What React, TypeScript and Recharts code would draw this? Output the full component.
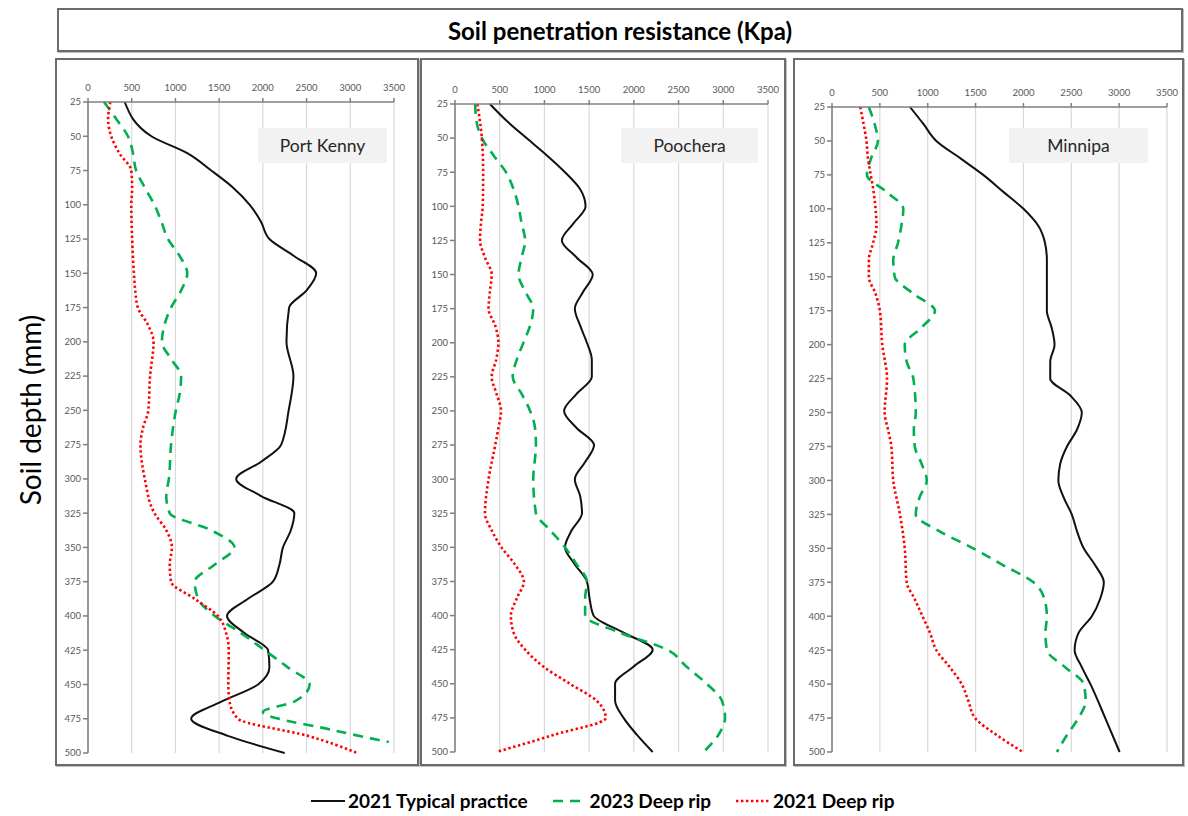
import { LineChart, Line, XAxis, YAxis, CartesianGrid } from 'recharts'

const depthTicks = [25, 50, 75, 100, 125, 150, 175, 200, 225, 250, 275, 300, 325, 350, 375, 400, 425, 450, 475, 500]
const kpaTicks = [0, 500, 1000, 1500, 2000, 2500, 3000, 3500]

const seriesNames = ['2021 Typical practice', '2023 Deep rip', '2021 Deep rip']

// Port Kenny
const pkTypicalDepth = [25, 50, 62.5, 75, 87.5, 100, 112.5, 125, 137.5, 150, 162.5, 175, 200, 225, 250, 275, 287.5, 300, 312.5, 325, 337.5, 350, 362.5, 375, 387.5, 400, 412.5, 425, 437.5, 450, 462.5, 475, 487.5, 500]
const pkTypical = [420, 725, 1140, 1410, 1660, 1850, 1980, 2075, 2360, 2610, 2500, 2300, 2270, 2350, 2295, 2210, 1980, 1695, 1980, 2360, 2320, 2230, 2190, 2115, 1830, 1590, 1790, 2060, 2075, 1945, 1525, 1180, 1600, 2250]
const pkRip23Depth = [25, 37.5, 50, 62.5, 75, 87.5, 100, 112.5, 125, 137.5, 150, 162.5, 175, 187.5, 200, 212.5, 225, 237.5, 250, 275, 300, 312.5, 325, 337.5, 350, 362.5, 375, 387.5, 400, 412.5, 425, 437.5, 450, 462.5, 470, 483, 492]
const pkRip23 = [183, 325, 457, 515, 550, 650, 760, 840, 915, 1050, 1135, 1065, 950, 875, 845, 950, 1065, 1050, 1005, 950, 925, 895, 935, 1410, 1675, 1450, 1220, 1260, 1450, 1750, 2020, 2285, 2535, 2360, 2000, 2780, 3440]
const pkRip21Depth = [25, 37.5, 50, 62.5, 75, 87.5, 100, 125, 150, 162.5, 175, 187.5, 200, 225, 250, 262.5, 275, 300, 325, 337.5, 350, 362.5, 375, 387.5, 400, 412.5, 425, 450, 462.5, 475, 487.5, 500]
const pkRip21 = [255, 230, 265, 360, 495, 505, 495, 505, 525, 540, 570, 685, 750, 710, 690, 630, 600, 650, 760, 895, 960, 935, 950, 1220, 1485, 1580, 1610, 1605, 1620, 1715, 2515, 3080]

// Poochera
const poTypicalDepth = [25, 37.5, 50, 62.5, 75, 87.5, 100, 112.5, 125, 137.5, 150, 162.5, 175, 187.5, 200, 212.5, 225, 237.5, 250, 262.5, 275, 287.5, 300, 312.5, 325, 337.5, 350, 362.5, 375, 387.5, 400, 412.5, 425, 437.5, 450, 462.5, 475, 487.5, 500]
const poTypical = [390, 580, 800, 1025, 1230, 1400, 1460, 1325, 1195, 1360, 1540, 1435, 1340, 1400, 1475, 1530, 1530, 1360, 1220, 1360, 1555, 1455, 1340, 1400, 1420, 1305, 1230, 1340, 1475, 1505, 1550, 1885, 2210, 1995, 1790, 1790, 1885, 2035, 2210]
const poRip23Depth = [25, 37.5, 50, 62.5, 75, 87.5, 100, 112.5, 125, 137.5, 150, 162.5, 175, 187.5, 200, 212.5, 225, 237.5, 250, 262.5, 275, 300, 325, 337.5, 350, 362.5, 375, 387.5, 400, 412.5, 425, 437.5, 450, 462.5, 475, 487.5, 500]
const poRip23 = [225, 240, 300, 430, 570, 655, 710, 745, 785, 745, 710, 785, 875, 840, 765, 690, 645, 745, 840, 895, 905, 875, 905, 1065, 1230, 1360, 1475, 1455, 1455, 1845, 2370, 2590, 2815, 2985, 3020, 2945, 2780]
const poRip21Depth = [25, 50, 75, 100, 112.5, 125, 137.5, 150, 162.5, 175, 187.5, 200, 212.5, 225, 237.5, 250, 262.5, 275, 300, 325, 337.5, 350, 362.5, 375, 387.5, 400, 412.5, 425, 437.5, 450, 462.5, 475, 487.5, 500]
const poRip21 = [250, 300, 315, 310, 290, 280, 335, 410, 390, 375, 450, 485, 460, 410, 465, 515, 485, 450, 375, 335, 410, 520, 670, 770, 690, 625, 655, 785, 990, 1285, 1585, 1685, 1100, 465]

// Minnipa
const miTypicalDepth = [25, 37.5, 50, 62.5, 75, 87.5, 100, 112.5, 125, 137.5, 150, 175, 187.5, 200, 212.5, 225, 237.5, 250, 262.5, 275, 287.5, 300, 312.5, 325, 337.5, 350, 362.5, 375, 387.5, 400, 412.5, 425, 437.5, 450, 475, 500]
const miTypical = [815, 955, 1090, 1335, 1580, 1790, 2000, 2155, 2225, 2245, 2245, 2245, 2295, 2325, 2280, 2280, 2490, 2610, 2560, 2455, 2385, 2365, 2420, 2505, 2560, 2630, 2750, 2840, 2800, 2715, 2575, 2535, 2610, 2700, 2855, 3005]
const miRip23Depth = [25, 37.5, 50, 62.5, 75, 87.5, 100, 112.5, 125, 137.5, 150, 162.5, 175, 187.5, 200, 212.5, 225, 250, 262.5, 275, 287.5, 300, 312.5, 325, 337.5, 350, 362.5, 375, 387.5, 400, 412.5, 425, 437.5, 450, 462.5, 475, 487.5, 500]
const miRip23 = [385, 445, 480, 410, 365, 570, 745, 725, 690, 640, 655, 850, 1075, 935, 760, 780, 850, 875, 855, 865, 935, 990, 915, 875, 1125, 1475, 1790, 2105, 2220, 2245, 2230, 2245, 2435, 2630, 2650, 2575, 2455, 2350]
const miRip21Depth = [25, 37.5, 50, 62.5, 75, 87.5, 100, 112.5, 125, 137.5, 150, 162.5, 175, 200, 225, 250, 262.5, 275, 300, 325, 350, 375, 387.5, 400, 412.5, 425, 437.5, 450, 462.5, 475, 487.5, 500]
const miRip21 = [295, 330, 360, 375, 405, 435, 455, 465, 430, 385, 385, 455, 500, 525, 575, 550, 585, 620, 640, 710, 760, 780, 865, 945, 1025, 1090, 1230, 1355, 1425, 1495, 1720, 1995]

const toRows = (depths: number[], values: number[]) =>
  depths.map((depth, i) => ({ depth, kpa: values[i] }))

const lineStyles = [
  { stroke: '#111111', strokeWidth: 2, strokeDasharray: undefined as string | undefined },
  { stroke: '#00b050', strokeWidth: 2.6, strokeDasharray: '10 7' },
  { stroke: '#ff0000', strokeWidth: 2.6, strokeDasharray: '2.4 2.6' },
]

const font = 'Lato, "Open Sans", sans-serif'

interface PanelProps {
  site: string
  box: { x: number; y: number; w: number; h: number }
  plot: { left: number; right: number; top: number; bottom: number }
  label: { x: number; w: number }
  series: { depths: number[]; values: number[] }[]
}

function SitePanel({ site, box, plot, label, series }: PanelProps) {
  const axisH = 30
  return (
    <>
      <div
        style={{
          position: 'absolute',
          left: box.x,
          top: box.y,
          width: box.w,
          height: box.h,
          border: '2px solid #6b6b6b',
          boxSizing: 'border-box',
          boxShadow: '1px 1px 0 #bdbdbd',
        }}
      />
      <div style={{ position: 'absolute', left: box.x, top: box.y }}>
        <LineChart
          width={box.w}
          height={box.h}
          layout="vertical"
          margin={{ left: 0, right: plot.right, top: plot.top - axisH, bottom: plot.bottom }}
        >
          <CartesianGrid horizontal={false} stroke="#d9d9d9" strokeWidth={1.2} />
          <XAxis
            type="number"
            orientation="top"
            domain={[0, 3500]}
            ticks={kpaTicks}
            height={axisH}
            tickSize={4}
            tickMargin={7}
            tick={{ fontSize: 9.5, fill: '#595959', fontFamily: font }}
            stroke="#7f7f7f"
            strokeWidth={1.5}
            interval={0}
          />
          <YAxis
            type="number"
            dataKey="depth"
            domain={[25, 500]}
            ticks={depthTicks}
            width={plot.left}
            tickSize={5}
            tickMargin={2}
            tick={{ fontSize: 9.5, fill: '#595959', fontFamily: font }}
            stroke="#7f7f7f"
            strokeWidth={1.5}
            interval={0}
          />
          {series.map((s, i) => (
            <Line
              key={seriesNames[i]}
              name={seriesNames[i]}
              data={toRows(s.depths, s.values)}
              dataKey="kpa"
              type="monotone"
              dot={false}
              isAnimationActive={false}
              {...lineStyles[i]}
            />
          ))}
        </LineChart>
      </div>
      <div
        style={{
          position: 'absolute',
          left: label.x,
          top: 128,
          width: label.w,
          height: 35,
          background: '#f2f2f2',
          display: 'flex',
          alignItems: 'center',
          justifyContent: 'center',
          fontFamily: font,
          fontSize: 17.5,
          color: '#262626',
        }}
      >
        {site}
      </div>
    </>
  )
}

function LegendKey({ index }: { index: number }) {
  const s = lineStyles[index]
  return (
    <span style={{ display: 'inline-flex', alignItems: 'center', marginRight: 24 }}>
      <svg width={36} height={10} style={{ marginRight: 2 }}>
        <line x1={1} y1={5} x2={35} y2={5} stroke={s.stroke} strokeWidth={s.strokeWidth} strokeDasharray={s.strokeDasharray} />
      </svg>
      <span>{seriesNames[index]}</span>
    </span>
  )
}

export default function App() {
  return (
    <div style={{ position: 'absolute', left: 0, top: 0, width: 1188, height: 816, background: '#fff', fontFamily: font }}>
      <div
        style={{
          position: 'absolute',
          left: 57,
          top: 8,
          width: 1126,
          height: 44,
          border: '2px solid #6b6b6b',
          boxSizing: 'border-box',
          boxShadow: '1px 1px 0 #bdbdbd',
          display: 'flex',
          alignItems: 'center',
          justifyContent: 'center',
          fontWeight: 700,
          fontSize: 24,
          color: '#000',
        }}
      >
        Soil penetration resistance (Kpa)
      </div>

      <div
        style={{
          position: 'absolute',
          left: 30,
          top: 410,
          transform: 'translate(-50%, -50%) rotate(-90deg)',
          fontSize: 28,
          whiteSpace: 'nowrap',
          color: '#000',
        }}
      >
        Soil depth (mm)
      </div>

      <SitePanel
        site="Port Kenny"
        box={{ x: 55, y: 58, w: 364, h: 708 }}
        plot={{ left: 33, right: 25, top: 44, bottom: 13 }}
        label={{ x: 258, w: 129 }}
        series={[
          { depths: pkTypicalDepth, values: pkTypical },
          { depths: pkRip23Depth, values: pkRip23 },
          { depths: pkRip21Depth, values: pkRip21 },
        ]}
      />
      <SitePanel
        site="Poochera"
        box={{ x: 420, y: 58, w: 366, h: 708 }}
        plot={{ left: 35, right: 18, top: 46, bottom: 14 }}
        label={{ x: 621, w: 137 }}
        series={[
          { depths: poTypicalDepth, values: poTypical },
          { depths: poRip23Depth, values: poRip23 },
          { depths: poRip21Depth, values: poRip21 },
        ]}
      />
      <SitePanel
        site="Minnipa"
        box={{ x: 793, y: 58, w: 391, h: 708 }}
        plot={{ left: 39, right: 17, top: 49, bottom: 14 }}
        label={{ x: 1009, w: 139 }}
        series={[
          { depths: miTypicalDepth, values: miTypical },
          { depths: miRip23Depth, values: miRip23 },
          { depths: miRip21Depth, values: miRip21 },
        ]}
      />

      <div
        style={{
          position: 'absolute',
          left: 310,
          top: 789,
          display: 'flex',
          alignItems: 'center',
          fontWeight: 700,
          fontSize: 19,
          color: '#000',
          whiteSpace: 'nowrap',
        }}
      >
        <LegendKey index={0} />
        <LegendKey index={1} />
        <LegendKey index={2} />
      </div>
    </div>
  )
}
